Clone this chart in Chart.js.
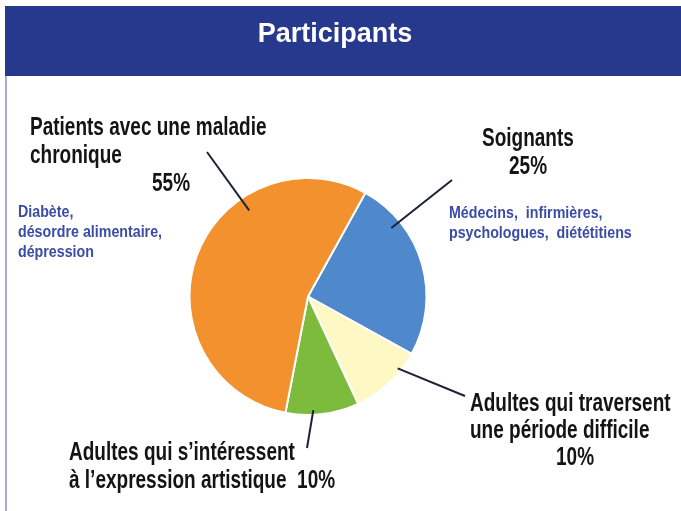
<!DOCTYPE html>
<html>
<head>
<meta charset="utf-8">
<title>Participants</title>
<script src="https://cdn.jsdelivr.net/npm/chart.js"></script>
<style>
  html, body { margin: 0; padding: 0; background: #fff; }
  #wrap { width: 681px; height: 511px; }
</style>
</head>
<body>
<div id="wrap"><canvas id="participants-chart" width="681" height="511"></canvas></div>
<script>
// Données (ordre horaire à partir du haut)
const categories = [
  'Soignants',
  'Adultes qui traversent une période difficile',
  'Adultes qui s\u2019intéressent à l\u2019expression artistique',
  'Patients avec une maladie chronique'
];
const percentages = [25, 10, 10, 55];
const sliceColors = ['#4f88cb', '#fdf8c4', '#7dbb3d', '#f3912f'];
const chartTitle = 'Participants';

// Textes des étiquettes (gros = noir, petit = bleu)
const annotations = [
  { slice: 3, anchor: [0.68, 0.88], from: [207, 152], lines: [
    { t: 'Patients avec une maladie', x: 30, y: 135, big: true },
    { t: 'chronique', x: 30, y: 163, big: true },
    { t: percentages[3] + '%', x: 152, y: 191, big: true },
    { t: 'Diabète,', x: 18, y: 217 },
    { t: 'désordre alimentaire,', x: 18, y: 237 },
    { t: 'dépression', x: 18, y: 257 }
  ]},
  { slice: 0, anchor: [0.24, 0.91], from: [452, 180], lines: [
    { t: 'Soignants', x: 482, y: 146, big: true },
    { t: percentages[0] + '%', x: 509, y: 174, big: true },
    { t: 'Médecins,  infirmières,', x: 449, y: 218 },
    { t: 'psychologues,  diététitiens', x: 449, y: 238 }
  ]},
  { slice: 1, anchor: [0.27, 0.97], from: [465, 396], lines: [
    { t: 'Adultes qui traversent', x: 470, y: 411, big: true },
    { t: 'une période difficile', x: 470, y: 438, big: true },
    { t: percentages[1] + '%', x: 556, y: 465, big: true }
  ]},
  { slice: 2, anchor: [0.62, 0.96], from: [307, 448], lines: [
    { t: 'Adultes qui s\u2019intéressent', x: 69, y: 460, big: true },
    { t: '\u00e0 l\u2019expression artistique  ' + percentages[2] + '%', x: 69, y: 488, big: true }
  ]}
];

const FONT = '"Liberation Sans", Arial, sans-serif';

// Fond, bandeau bleu et titre
const decorPlugin = {
  id: 'decor',
  beforeDraw(chart) {
    const ctx = chart.ctx;
    ctx.save();
    ctx.fillStyle = '#ffffff';
    ctx.fillRect(0, 0, chart.width, chart.height);
    ctx.fillStyle = '#27398c';
    ctx.fillRect(5, 6, chart.width - 5, 70);
    ctx.fillStyle = '#a4aadf';
    ctx.fillRect(5, 76, 2, chart.height - 76);
    ctx.fillStyle = '#ffffff';
    ctx.font = 'bold 27px ' + FONT;
    ctx.textAlign = 'center';
    ctx.textBaseline = 'alphabetic';
    ctx.fillText(chartTitle, 335, 42);
    ctx.restore();
  }
};

// Traits de rappel et étiquettes
const labelPlugin = {
  id: 'labels',
  afterDatasetsDraw(chart) {
    const ctx = chart.ctx;
    const arcs = chart.getDatasetMeta(0).data;
    ctx.save();
    annotations.forEach(a => {
      const p = arcs[a.slice].getProps(['x', 'y', 'startAngle', 'endAngle', 'outerRadius'], true);
      const ang = p.startAngle + a.anchor[0] * (p.endAngle - p.startAngle);
      const ex = p.x + Math.cos(ang) * p.outerRadius * a.anchor[1];
      const ey = p.y + Math.sin(ang) * p.outerRadius * a.anchor[1];
      ctx.strokeStyle = '#1b2233';
      ctx.lineWidth = 2;
      ctx.beginPath();
      ctx.moveTo(a.from[0], a.from[1]);
      ctx.lineTo(ex, ey);
      ctx.stroke();

      a.lines.forEach(l => {
        const size = l.big ? 25 : 16;
        const sx = l.big ? 0.76 : 0.89;
        ctx.save();
        ctx.translate(l.x, l.y);
        ctx.scale(sx, 1);
        ctx.font = 'bold ' + size + 'px ' + FONT;
        ctx.fillStyle = l.big ? '#141414' : '#3a4ca6';
        ctx.textAlign = 'left';
        ctx.textBaseline = 'alphabetic';
        ctx.fillText(l.t, 0, 0);
        ctx.restore();
      });
    });
    ctx.restore();
  }
};

new Chart(document.getElementById('participants-chart'), {
  type: 'pie',
  data: {
    labels: categories,
    datasets: [{
      data: percentages,
      backgroundColor: sliceColors,
      borderColor: '#ffffff',
      borderWidth: 2
    }]
  },
  options: {
    responsive: false,
    animation: false,
    rotation: 29,
    layout: { padding: { left: 188, right: 253, top: 177, bottom: 95 } },
    plugins: {
      legend: { display: false },
      tooltip: { enabled: false },
      title: { display: false }
    }
  },
  plugins: [decorPlugin, labelPlugin]
});
</script>
</body>
</html>
